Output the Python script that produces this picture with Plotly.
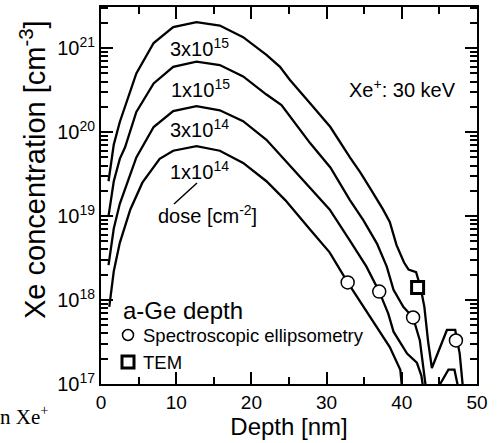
import plotly.graph_objects as go

# ---------------- data ----------------
depth_3e15 = [1.0, 1.7, 2.5, 3.2, 4.7, 7.0, 9.6, 12.7, 15.8, 18.9, 22.0, 23.8, 25.1, 27.8, 30.5, 33.1,
              34.5, 35.8, 36.7, 37.5, 38.4, 39.3, 40.3, 40.9, 41.9, 42.5, 43.0, 43.5, 44.0, 46.0, 47.1,
              47.7, 48.4]
conc_3e15 = [2.6e19, 7.1e19, 1.32e20, 2.0e20, 5.0e20, 1.15e21, 1.78e21, 2.04e21, 1.86e21, 1.35e21,
             8.3e20, 6.0e20, 4.2e20, 2.2e20, 1.15e20, 5.0e19, 3.3e19, 2.14e19, 1.58e19, 1.2e19,
             8.5e18, 4.5e18, 2.8e18, 2.3e18, 2.15e18, 1.41e18, 8.3e17, 3.2e17, 1.55e17, 4.4e17,
             4.4e17, 2.3e17, 5.0e16]

depth_1e15 = [1.0, 1.7, 2.5, 3.2, 4.7, 7.0, 9.6, 12.7, 15.8, 18.9, 22.0, 24.0, 27.8, 30.5, 33.1,
              34.9, 36.7, 38.0, 38.9, 40.2, 41.5, 42.4, 43.1, 43.6, 44.5, 45.1, 46.2, 47.0, 47.4, 47.7]
conc_1e15 = [1.0e19, 2.6e19, 4.8e19, 6.6e19, 1.74e20, 3.8e20, 6.0e20, 6.9e20, 6.3e20, 4.6e20,
             2.8e20, 2.1e20, 7.4e19, 3.8e19, 1.55e19, 8.9e18, 4.7e18, 2.5e18, 1.32e18, 8.3e17,
             6.2e17, 3.3e17, 1.07e17, 5.0e16, 3.2e16, 1.0e17, 1.48e17, 1.48e17, 1.0e17, 5.0e16]

depth_3e14 = [1.0, 1.7, 2.5, 3.2, 4.7, 7.0, 9.6, 12.7, 15.8, 18.9, 22.0, 24.5, 27.8, 30.4, 33.1,
              35.3, 37.0, 38.2, 38.9, 40.7, 42.0, 42.6, 43.1]
conc_3e14 = [2.6e18, 7.1e18, 1.4e19, 2.1e19, 5.0e19, 1.15e20, 1.78e20, 2.04e20, 1.82e20, 1.35e20,
             8.1e19, 4.6e19, 2.2e19, 1.2e19, 5.1e18, 2.5e18, 1.26e18, 6.9e17, 4.2e17, 2.3e17,
             1.8e17, 1.26e17, 6.3e16]

depth_1e14 = [1.1, 1.7, 2.5, 3.9, 5.5, 7.8, 9.6, 12.7, 15.8, 18.9, 22.0, 24.5, 27.8, 30.4, 32.8,
              34.9, 36.7, 38.4, 39.8, 40.2]
conc_1e14 = [8.3e17, 2.2e18, 4.8e18, 1.2e19, 2.5e19, 4.8e19, 6.0e19, 6.8e19, 6.0e19, 4.3e19,
             2.6e19, 1.55e19, 6.9e18, 3.7e18, 1.62e18, 8.3e17, 4.8e17, 2.75e17, 1.48e17, 6.3e16]

se_depth = [32.8, 37.0, 41.5, 47.2]
se_conc = [1.62e18, 1.26e18, 6.2e17, 3.3e17]
tem_depth = [42.1]
tem_conc = [1.41e18]

x_tick_vals = [0, 10, 20, 30, 40, 50]
x_minor_vals = [5, 15, 25, 35, 45]
y_tick_vals = [1e17, 1e18, 1e19, 1e20, 1e21]
y_tick_text = ["10<sup>17</sup>", "10<sup>18</sup>", "10<sup>19</sup>", "10<sup>20</sup>", "10<sup>21</sup>"]
y_minor_vals = [m * 10.0 ** e for e in range(17, 22) for m in range(2, 10)]

FONT = "Liberation Sans, Arial, sans-serif"

fig = go.Figure()
for xs, ys, nm in [(depth_3e15, conc_3e15, "3x10^15"), (depth_1e15, conc_1e15, "1x10^15"),
                   (depth_3e14, conc_3e14, "3x10^14"), (depth_1e14, conc_1e14, "1x10^14")]:
    fig.add_trace(go.Scatter(x=xs, y=ys, mode="lines", name=nm,
                             line=dict(color="black", width=2.3)))

fig.add_trace(go.Scatter(x=se_depth, y=se_conc, mode="markers", name="Spectroscopic ellipsometry",
                         marker=dict(symbol="circle", size=13, color="white",
                                     line=dict(color="black", width=1.5))))
fig.add_trace(go.Scatter(x=tem_depth, y=tem_conc, mode="markers", name="TEM",
                         marker=dict(symbol="square", size=12, color="white",
                                     line=dict(color="black", width=3))))

axis_common = dict(showline=True, linecolor="black", linewidth=2, mirror="ticks",
                   ticks="inside", tickcolor="black", tickwidth=2, ticklen=12,
                   showgrid=False, zeroline=False)

fig.update_xaxes(range=[0, 50], tickmode="array", tickvals=x_tick_vals,
                 tickfont=dict(size=19, family=FONT, color="black"),
                 minor=dict(tickmode="array", tickvals=x_minor_vals, ticks="inside",
                            ticklen=7, tickwidth=2, tickcolor="black", showgrid=False),
                 title=dict(text="Depth [nm]", font=dict(size=24, family=FONT, color="black"),
                            standoff=6),
                 **axis_common)
fig.update_yaxes(type="log", range=[17, 21.49], tickmode="array", tickvals=y_tick_vals,
                 ticktext=y_tick_text,
                 tickfont=dict(size=20, family=FONT, color="black"),
                 minor=dict(tickmode="array", tickvals=y_minor_vals, ticks="inside",
                            ticklen=7, tickwidth=2, tickcolor="black", showgrid=False),
                 **axis_common)

def px_to_paper(px, py):
    return (px - 101) / 376.0, (384 - py) / 377.0

annots = []
def add_text(text, px, py, size, xanchor="center", family=FONT, angle=0):
    xp, yp = px_to_paper(px, py)
    annots.append(dict(text=text, x=xp, y=yp, xref="paper", yref="paper", showarrow=False,
                       xanchor=xanchor, yanchor="middle", textangle=angle,
                       font=dict(size=size, family=family, color="black")))

add_text("Xe concentration [cm<sup>-3</sup>]", 33, 170, 29, angle=-90)
add_text("3x10<sup>15</sup>", 199, 47, 20)
add_text("1x10<sup>15</sup>", 200, 88, 20)
add_text("3x10<sup>14</sup>", 199, 128, 20)
add_text("1x10<sup>14</sup>", 199, 170, 20)
add_text("dose [cm<sup>-2</sup>]", 207, 214, 20)
add_text("Xe<sup>+</sup>: 30 keV", 458, 88, 20, xanchor="right")
add_text("a-Ge depth", 121, 310, 24, xanchor="left")
add_text("Spectroscopic ellipsometry", 141, 335, 18.5, xanchor="left")
add_text("TEM", 141, 362, 18.5, xanchor="left")
add_text("n Xe<sup>+</sup>", -2, 415, 21, xanchor="left", family="Liberation Serif, Times New Roman, serif")
fig.update_layout(annotations=annots)

shapes = []
# leader line from "dose" label to "1x10^14"
x0, y0 = px_to_paper(174, 204)
x1, y1 = px_to_paper(197, 183)
shapes.append(dict(type="line", xref="paper", yref="paper", x0=x0, y0=y0, x1=x1, y1=y1,
                   line=dict(color="black", width=1.5)))
# legend symbols
cx0, cy0 = px_to_paper(122.5, 340.5)
cx1, cy1 = px_to_paper(133.5, 329.5)
shapes.append(dict(type="circle", xref="paper", yref="paper", x0=cx0, y0=cy0, x1=cx1, y1=cy1,
                   line=dict(color="black", width=1.5), fillcolor="white"))
sx0, sy0 = px_to_paper(122, 368)
sx1, sy1 = px_to_paper(134, 356)
shapes.append(dict(type="rect", xref="paper", yref="paper", x0=sx0, y0=sy0, x1=sx1, y1=sy1,
                   line=dict(color="black", width=3), fillcolor="white"))
fig.update_layout(shapes=shapes)

fig.update_layout(width=499, height=443, margin=dict(l=101, r=22, t=7, b=59, autoexpand=False),
                  plot_bgcolor="white", paper_bgcolor="white", showlegend=False,
                  font=dict(family=FONT, color="black"))

fig.write_html("out.html")
